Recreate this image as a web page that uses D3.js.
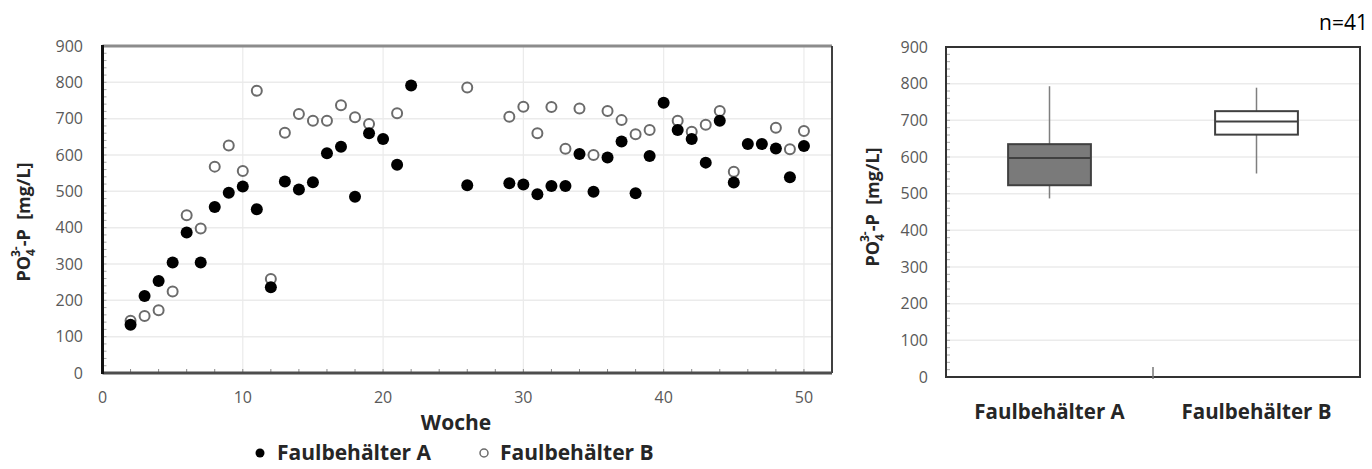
<!DOCTYPE html>
<html>
<head>
<meta charset="utf-8">
<script src="https://cdn.jsdelivr.net/npm/d3@7"></script>
<style>
  body { margin: 0; background: #fff; }
  svg text { font-family: "Open Sans", "Noto Sans", sans-serif; }
</style>
</head>
<body>
<svg id="chart" width="1372" height="469"></svg>
<script>
// weekly PO4-P values
var weeksA = [2, 3, 4, 5, 6, 7, 8, 9, 10, 11, 12, 13, 14, 15, 16, 17, 18, 19, 20, 21, 22,
              26, 29, 30, 31, 32, 33, 34, 35, 36, 37, 38, 39, 40, 41, 42, 43, 44, 45, 46, 47, 48, 49, 50];
var valuesA = [133, 212, 253, 304, 387, 304, 457, 496, 513, 451, 236, 527, 505, 525, 605, 623, 485, 660, 644, 573, 791,
               517, 522, 519, 492, 515, 515, 603, 499, 593, 637, 495, 597, 744, 669, 644, 579, 694, 524, 630, 630, 618, 539, 625];
var weeksB = [2, 3, 4, 5, 6, 7, 8, 9, 10, 11, 12, 13, 14, 15, 16, 17, 18, 19, 21,
              26, 29, 30, 31, 32, 33, 34, 35, 36, 37, 38, 39, 41, 42, 43, 44, 45, 48, 49, 50];
var valuesB = [144, 157, 173, 224, 434, 398, 568, 626, 556, 777, 259, 661, 713, 694, 694, 737, 704, 685, 715,
               786, 705, 733, 660, 732, 617, 728, 600, 721, 696, 657, 669, 694, 664, 683, 721, 554, 675, 616, 666];
var seriesNames = ["Faulbehälter A", "Faulbehälter B"];
var xTicks = [0, 10, 20, 30, 40, 50];
var yTicks = [0, 100, 200, 300, 400, 500, 600, 700, 800, 900];
// box plot stats [min, q1, median, q3, max]
var boxA = [487, 523, 597, 635, 793];
var boxB = [555, 661, 697, 725, 789];

var svg = d3.select("#chart");
var tickColor = "#595959", gridColor = "#ebebeb", titleColor = "#262626";

function yTitle(g, x, y) {
    var t = g.append("text")
        .attr("transform", "translate(" + x + "," + y + ") rotate(-90)")
        .attr("text-anchor", "middle")
        .attr("font-size", 18).attr("font-weight", "bold").attr("fill", titleColor);
    t.append("tspan").text("PO");
    t.append("tspan").attr("font-size", 12).attr("dy", 5).text("4");
    t.append("tspan").attr("font-size", 12).attr("dx", -8).attr("dy", -15).text("3-");
    t.append("tspan").attr("dy", 10).text("-P\u00a0\u00a0[mg/L]");
}

/* ---------- left: scatter over weeks ---------- */
var x = d3.scaleLinear().domain([0, 52]).range([102.5, 832]);
var y = d3.scaleLinear().domain([0, 900]).range([373, 46]);
var left = svg.append("g");

left.append("g").selectAll("line").data(yTicks.slice(1, -1)).join("line")
    .attr("x1", x(0)).attr("x2", x(52)).attr("y1", y).attr("y2", y)
    .attr("stroke", gridColor).attr("stroke-width", 1.5);
left.append("g").selectAll("line").data(xTicks.slice(1)).join("line")
    .attr("x1", x).attr("x2", x).attr("y1", y(0)).attr("y2", y(900))
    .attr("stroke", gridColor).attr("stroke-width", 1.2);

// minor ticks
left.append("g").selectAll("line").data(d3.range(2, 52, 2)).join("line")
    .attr("x1", x).attr("x2", x).attr("y1", y(0)).attr("y2", y(0) - 4)
    .attr("stroke", "#888");
left.append("g").selectAll("line").data(d3.range(20, 900, 20)).join("line")
    .attr("x1", x(0)).attr("x2", x(0) + 4).attr("y1", y).attr("y2", y)
    .attr("stroke", "#aaa");

// frame
left.append("line").attr("x1", x(0)).attr("x2", x(52)).attr("y1", y(900)).attr("y2", y(900))
    .attr("stroke", "#8c8c8c").attr("stroke-width", 3);
left.append("line").attr("x1", x(52)).attr("x2", x(52)).attr("y1", y(900)).attr("y2", y(0))
    .attr("stroke", "#404040").attr("stroke-width", 2);
left.append("line").attr("x1", x(0)).attr("x2", x(52)).attr("y1", y(0)).attr("y2", y(0))
    .attr("stroke", "#4d4d4d").attr("stroke-width", 3);
left.append("line").attr("x1", x(0)).attr("x2", x(0)).attr("y1", y(900) - 1).attr("y2", y(0) + 1)
    .attr("stroke", "#111").attr("stroke-width", 3);

left.append("g").selectAll("text").data(yTicks).join("text")
    .attr("x", 83).attr("y", function (d) { return y(d) + 5.5; })
    .attr("text-anchor", "end").attr("font-size", 16).attr("fill", tickColor)
    .text(function (d) { return d; });
left.append("g").selectAll("text").data(xTicks).join("text")
    .attr("x", x).attr("y", 403)
    .attr("text-anchor", "middle").attr("font-size", 16).attr("fill", tickColor)
    .text(function (d) { return d; });

left.append("text").attr("x", x(25.2)).attr("y", 430).attr("text-anchor", "middle")
    .attr("font-size", 21).attr("font-weight", "bold").attr("fill", titleColor).text("Woche");
yTitle(left, 30, 222);

left.append("g").selectAll("circle").data(d3.zip(weeksB, valuesB)).join("circle")
    .attr("cx", function (d) { return x(d[0]); }).attr("cy", function (d) { return y(d[1]); })
    .attr("r", 5).attr("fill", "#fff").attr("stroke", "#6b6b6b").attr("stroke-width", 2);
left.append("g").selectAll("circle").data(d3.zip(weeksA, valuesA)).join("circle")
    .attr("cx", function (d) { return x(d[0]); }).attr("cy", function (d) { return y(d[1]); })
    .attr("r", 6).attr("fill", "#000");

// legend
var legend = left.append("g");
legend.append("circle").attr("cx", 260).attr("cy", 453).attr("r", 4.5).attr("fill", "#000");
legend.append("text").attr("x", 277).attr("y", 460).attr("font-size", 21).attr("font-weight", "bold")
    .attr("fill", titleColor).text(seriesNames[0]);
legend.append("circle").attr("cx", 484).attr("cy", 453).attr("r", 4).attr("fill", "#fff")
    .attr("stroke", "#6b6b6b").attr("stroke-width", 1.5);
legend.append("text").attr("x", 500).attr("y", 460).attr("font-size", 21).attr("font-weight", "bold")
    .attr("fill", titleColor).text(seriesNames[1]);

/* ---------- right: box plot ---------- */
var xb = d3.scaleBand().domain(seriesNames).range([946, 1360]);
var yb = d3.scaleLinear().domain([0, 900]).range([377, 47]);
var right = svg.append("g");

right.append("g").selectAll("line").data(yTicks.slice(1, -1)).join("line")
    .attr("x1", 946).attr("x2", 1360).attr("y1", yb).attr("y2", yb)
    .attr("stroke", gridColor).attr("stroke-width", 1.5);
right.append("g").selectAll("line").data(d3.range(20, 900, 20)).join("line")
    .attr("x1", 946).attr("x2", 950).attr("y1", yb).attr("y2", yb)
    .attr("stroke", "#aaa");
right.append("rect").attr("x", 946).attr("y", yb(900)).attr("width", 414).attr("height", yb(0) - yb(900))
    .attr("fill", "none").attr("stroke", "#333").attr("stroke-width", 2);
right.append("line").attr("x1", xb(seriesNames[1])).attr("x2", xb(seriesNames[1]))
    .attr("y1", yb(0) - 10).attr("y2", yb(0) + 2).attr("stroke", "#777").attr("stroke-width", 1.5);

right.append("g").selectAll("text").data(yTicks).join("text")
    .attr("x", 928).attr("y", function (d) { return yb(d) + 5.5; })
    .attr("text-anchor", "end").attr("font-size", 16).attr("fill", tickColor)
    .text(function (d) { return d; });
right.append("g").selectAll("text").data(seriesNames).join("text")
    .attr("x", function (d) { return xb(d) + xb.bandwidth() / 2; }).attr("y", 419)
    .attr("text-anchor", "middle").attr("font-size", 20.5).attr("font-weight", "bold")
    .attr("fill", titleColor).text(function (d) { return d; });
yTitle(right, 879, 207);

var boxes = [{ name: seriesNames[0], s: boxA, fill: "#7a7a7a" }, { name: seriesNames[1], s: boxB, fill: "#fff" }];
var bw = xb.bandwidth() * 0.4;
var bg = right.append("g").selectAll("g").data(boxes).join("g")
    .attr("transform", function (d) { return "translate(" + (xb(d.name) + xb.bandwidth() / 2) + ",0)"; });
bg.append("line").attr("x1", 0).attr("x2", 0)
    .attr("y1", function (d) { return yb(d.s[0]); }).attr("y2", function (d) { return yb(d.s[4]); })
    .attr("stroke", "#7f7f7f").attr("stroke-width", 1.5);
bg.append("rect").attr("x", -bw / 2).attr("width", bw)
    .attr("y", function (d) { return yb(d.s[3]); })
    .attr("height", function (d) { return yb(d.s[1]) - yb(d.s[3]); })
    .attr("fill", function (d) { return d.fill; }).attr("stroke", "#404040").attr("stroke-width", 2);
bg.append("line").attr("x1", -bw / 2).attr("x2", bw / 2)
    .attr("y1", function (d) { return yb(d.s[2]); }).attr("y2", function (d) { return yb(d.s[2]); })
    .attr("stroke", "#404040").attr("stroke-width", 2);

svg.append("text").attr("x", 1368).attr("y", 30).attr("text-anchor", "end")
    .attr("font-family", "Liberation Sans, Arial, sans-serif").attr("font-size", 21)
    .attr("fill", "#000").text("n=41");
</script>
</body>
</html>
